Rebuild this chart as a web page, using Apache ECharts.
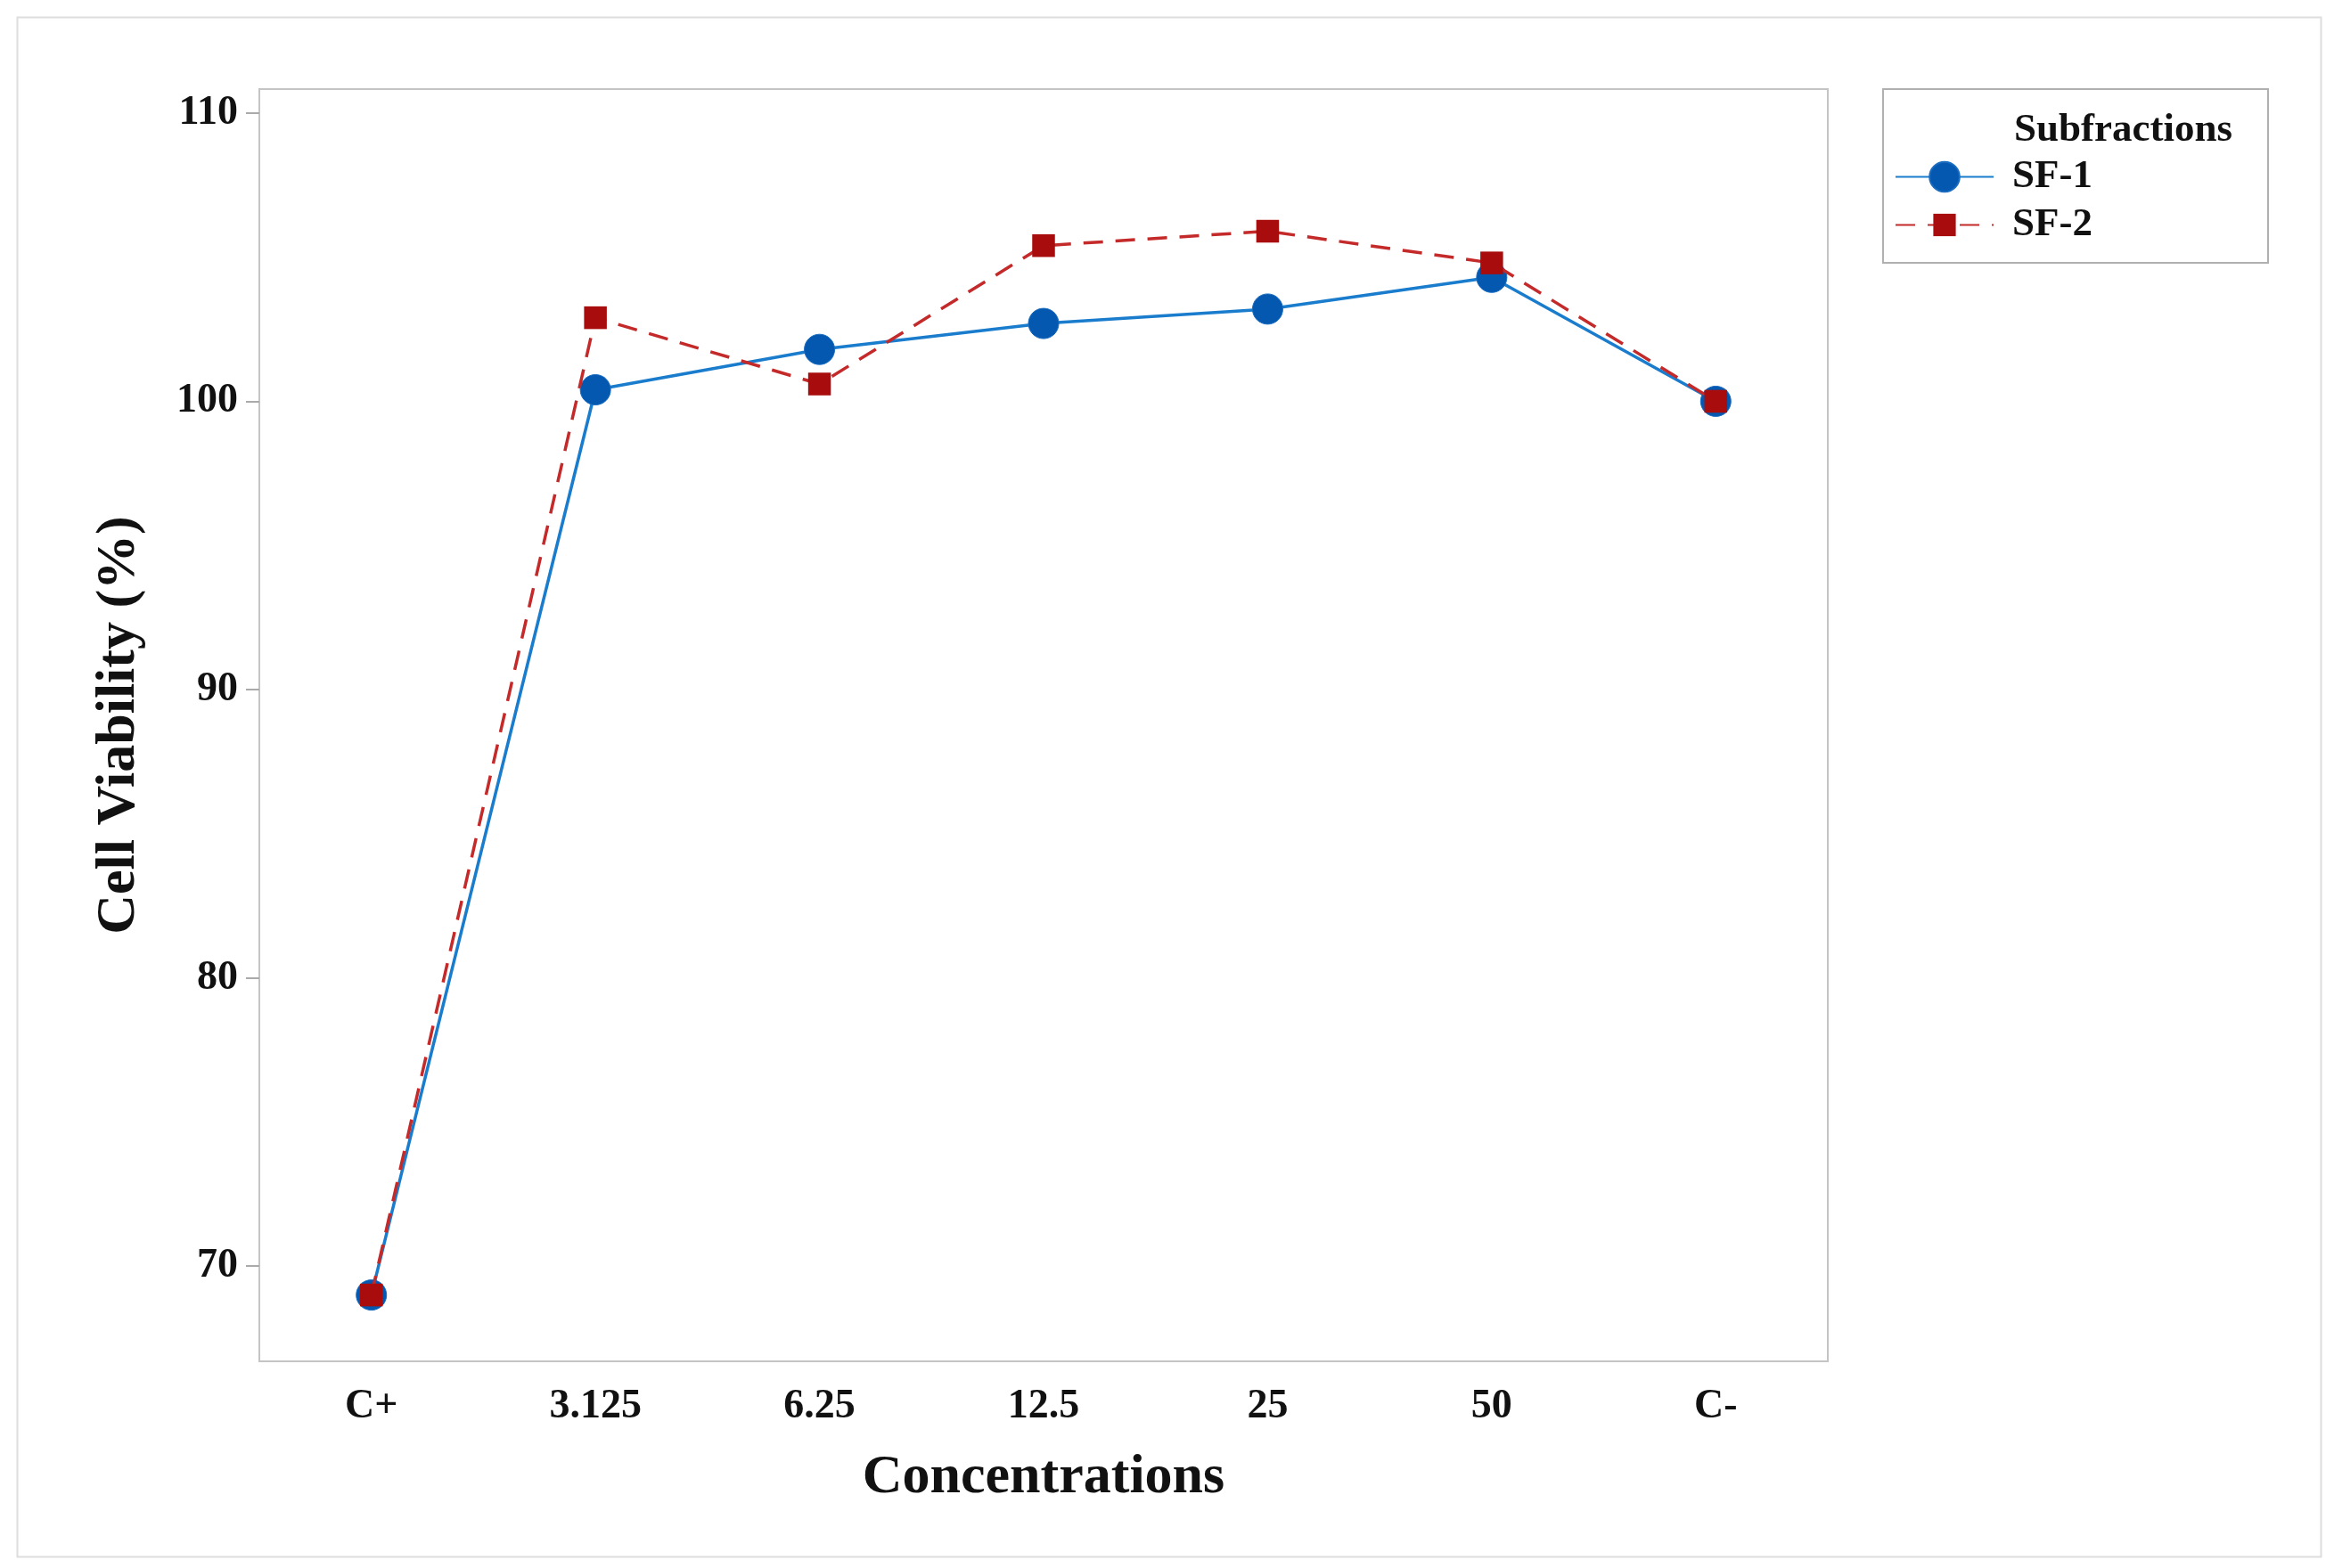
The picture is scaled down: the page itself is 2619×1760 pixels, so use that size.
<!DOCTYPE html>
<html>
<head>
<meta charset="utf-8">
<script src="https://cdn.jsdelivr.net/npm/echarts@6/dist/echarts.min.js"></script>
<style>
html,body{margin:0;padding:0;background:#fff;}
#chart{width:2619px;height:1760px;}
</style>
</head>
<body>
<div id="chart"></div>
<script>
const categories = ['C+', '3.125', '6.25', '12.5', '25', '50', 'C-'];
const sf1 = [69.0, 100.4, 101.8, 102.7, 103.2, 104.3, 100.0];
const sf2 = [69.0, 102.9, 100.6, 105.4, 105.9, 104.8, 100.0];
const yTicks = [70, 80, 90, 100, 110];

const FONT = '"Liberation Serif", "DejaVu Serif", serif';
// square occupying 75% of its symbol box (so legend and chart squares look smaller than circles)
const SQUARE = 'path://M0,0L0,0M1.25,1.25L8.75,1.25L8.75,8.75L1.25,8.75Z M10,10L10,10';
const chart = echarts.init(document.getElementById('chart'));
chart.setOption({
  backgroundColor: '#fff',
  animation: false,
  graphic: [{
    type: 'rect', left: 17, top: 17,
    shape: {width: 2585, height: 1728},
    style: {fill: 'none', stroke: '#dddddd', lineWidth: 2}
  }],
  title: {
    text: 'Subfractions', left: 2260, top: 124, padding: 0,
    textStyle: {fontFamily: FONT, fontWeight: 'bold', fontSize: 45, color: '#111'}
  },
  legend: {
    orient: 'vertical', left: 2113, top: 100,
    padding: [76, 197, 20, 13],
    itemGap: 9,
    itemWidth: 110, itemHeight: 42,
    borderColor: '#b0b0b0', borderWidth: 2,
    textStyle: {fontFamily: FONT, fontWeight: 'bold', fontSize: 45, color: '#111', padding: [0, 0, 0, 16]},
    data: ['SF-1', 'SF-2']
  },
  grid: {
    left: 291, right: 568, top: 100, bottom: 232,
    show: true, borderColor: '#c4c4c4', borderWidth: 2
  },
  xAxis: {
    type: 'category', data: categories, boundaryGap: true,
    name: 'Concentrations', nameLocation: 'middle', nameGap: 100,
    nameTextStyle: {fontFamily: FONT, fontWeight: 'bold', fontSize: 62, color: '#111'},
    axisLine: {lineStyle: {color: '#c4c4c4', width: 2}},
    axisTick: {alignWithLabel: true, length: 16, lineStyle: {color: '#aaa', width: 2}},
    axisLabel: {fontFamily: FONT, fontWeight: 'bold', fontSize: 46, color: '#111', margin: 28},
    splitLine: {show: false}
  },
  yAxis: {
    type: 'value', min: 66.7, max: 110.83,
    name: 'Cell Viability (%)', nameLocation: 'middle', nameGap: 126, nameRotate: 90,
    nameTextStyle: {fontFamily: FONT, fontWeight: 'bold', fontSize: 62, color: '#111'},
    axisLine: {show: true, lineStyle: {color: '#c4c4c4', width: 2}},
    axisTick: {show: true, length: 15, customValues: yTicks, lineStyle: {color: '#aaa', width: 2}},
    axisLabel: {fontFamily: FONT, fontWeight: 'bold', fontSize: 46, color: '#111', margin: 24, customValues: yTicks},
    splitLine: {show: false}
  },
  series: [
    {
      name: 'SF-1', type: 'line', data: sf1,
      symbol: 'circle', symbolSize: 34,
      lineStyle: {color: '#1a7ccc', width: 3.5, type: 'solid'},
      itemStyle: {color: '#0558b0', borderColor: '#1a6cc0', borderWidth: 1},
      z: 2
    },
    {
      name: 'SF-2', type: 'line', data: sf2,
      symbol: SQUARE, symbolSize: 34,
      lineStyle: {color: '#c42a2a', width: 3.5, type: [22, 14]},
      itemStyle: {color: '#a80c0c', borderWidth: 0},
      z: 3
    }
  ]
});
</script>
</body>
</html>
